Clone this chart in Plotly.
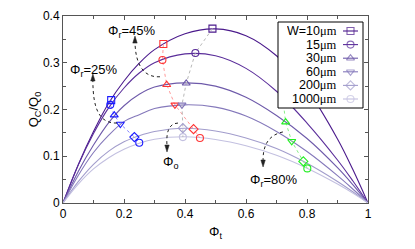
import plotly.graph_objects as go

# ---- data ----
phi_t = [0, 0.05, 0.1, 0.15, 0.2, 0.25, 0.3, 0.4, 0.5, 0.6, 0.7, 0.8, 0.9, 0.95, 1.0]
q_w10 = [0, 0.082, 0.153, 0.214, 0.261, 0.299, 0.328, 0.362, 0.3725, 0.358, 0.315, 0.243, 0.137, 0.072, 0]
q_w15 = [0, 0.081, 0.1485, 0.204, 0.246, 0.278, 0.300, 0.319, 0.315, 0.288, 0.239, 0.171, 0.092, 0.0475, 0]
q_w30 = [0, 0.0675, 0.124, 0.172, 0.208, 0.2325, 0.248, 0.257, 0.25, 0.226, 0.187, 0.138, 0.0756, 0.0394, 0]
q_w60 = [0, 0.059, 0.108, 0.145, 0.174, 0.189, 0.202, 0.21, 0.205, 0.186, 0.153, 0.110, 0.0585, 0.030, 0]
q_w200 = [0, 0.0456, 0.0828, 0.111, 0.131, 0.144, 0.153, 0.160, 0.154, 0.139, 0.1166, 0.085, 0.046, 0.024, 0]
q_w1000 = [0, 0.0404, 0.0729, 0.0969, 0.115, 0.128, 0.1365, 0.1416, 0.136, 0.1224, 0.102, 0.0744, 0.0405, 0.0211, 0]

width_labels = ["W=10", "15", "30", "60", "200", "1000"]
curves = [q_w10, q_w15, q_w30, q_w60, q_w200, q_w1000]

phi25_x = [0.158, 0.155, 0.168, 0.188, 0.234, 0.25]
phi25_y = [0.22, 0.21, 0.188, 0.169, 0.141, 0.129]
phi45_x = [0.329, 0.326, 0.340, 0.367, 0.428, 0.449]
phi45_y = [0.34, 0.306, 0.253, 0.21, 0.158, 0.139]
phio_x = [0.49, 0.434, 0.404, 0.39, 0.393, 0.393]
phio_y = [0.373, 0.321, 0.256, 0.21, 0.16, 0.141]
phi80_x = [0.724, 0.72, 0.73, 0.75, 0.788, 0.801]
phi80_y = [0.30, 0.227, 0.173, 0.132, 0.089, 0.074]

# ---- styles ----
curve_colors = ['#4b1a8c', '#5a2d9a', '#6e5aaa', '#8579bb', '#a29dcc', '#c3c0e0']
symbols = ['square-open', 'circle-open', 'triangle-up-open', 'triangle-down-open', 'diamond-open', 'circle-open']

# page body has an 8px margin: size the figure so the plot lands where the reference has it
OFF = 8
WIN_W, WIN_H = 415, 249
PX0, PX1, PY0, PY1 = 63, 368, 16, 203          # plot area in window pixels
W, H = WIN_W - OFF, WIN_H - OFF
ML, MT = PX0 - OFF, PY0 - OFF
MR, MB = W - (PX1 - OFF), H - (PY1 - OFF)
PW, PH = PX1 - PX0, PY1 - PY0
XR, YR = 1.0, 0.4

fig = go.Figure()

for q, c in zip(curves, curve_colors):
    fig.add_trace(go.Scatter(x=phi_t, y=q, mode='lines',
                             line=dict(color=c, width=1.1, shape='spline', smoothing=1.0),
                             showlegend=False, hoverinfo='skip'))

def connector(xs, ys, mcolors, lcolor):
    fig.add_trace(go.Scatter(x=xs, y=ys, mode='lines', line=dict(color=lcolor, width=1, dash='dot'),
                             showlegend=False, hoverinfo='skip'))
    for xv, yv, mc, s in zip(xs, ys, mcolors, symbols):
        fig.add_trace(go.Scatter(x=[xv], y=[yv], mode='markers',
                                 marker=dict(symbol=s, size=7, color=mc, line=dict(width=1.1, color=mc)),
                                 showlegend=False, hoverinfo='skip'))

connector(phi25_x, phi25_y, ['#1a1aff'] * 6, '#7f7fff')
connector(phi45_x, phi45_y, ['#ff3333'] * 6, '#ff9a9a')
connector(phio_x, phio_y, curve_colors, '#b8b8b8')
connector(phi80_x, phi80_y, ['#22ee22'] * 6, '#88f088')

# curved dotted arrows (data coords) and filled arrowheads
paths = [
    "M 0.177,0.171 C 0.12,0.170 0.098,0.20 0.098,0.262",
    "M 0.318,0.270 C 0.26,0.268 0.238,0.30 0.236,0.343",
    "M 0.377,0.171 C 0.345,0.170 0.338,0.15 0.341,0.122",
    "M 0.721,0.152 C 0.67,0.145 0.655,0.12 0.656,0.090",
]
for p in paths:
    fig.add_shape(type='path', path=p, xref='x', yref='y', line=dict(color='#222', width=1, dash='dot'))

heads = [(0.098, 0.276, 1), (0.236, 0.357, 1), (0.341, 0.109, -1), (0.656, 0.077, -1)]
px_x = XR / PW
px_y = YR / PH
for hx, hy, d in heads:
    bx1, bx2 = hx - 2.2 * px_x, hx + 2.2 * px_x
    by = hy - d * 7 * px_y
    fig.add_shape(type='path', path=f"M {hx},{hy} L {bx1},{by} L {bx2},{by} Z",
                  xref='x', yref='y', line=dict(color='#222', width=0.5), fillcolor='#222')

labels = [(0.100, 0.284, "Φ<sub>r</sub>=25%"), (0.226, 0.366, "Φ<sub>r</sub>=45%"),
          (0.352, 0.086, "Φ<sub>o</sub>"), (0.689, 0.049, "Φ<sub>r</sub>=80%")]
for lx, ly, t in labels:
    fig.add_annotation(x=lx, y=ly, text=t, showarrow=False, xref='x', yref='y',
                       font=dict(size=13, color='black'))

# ---- custom legend (gnuplot style: text right-aligned, sample on the right) ----
def fx(px):
    return (px - PX0) / PW

def fy(py):
    return (PY1 - py) / PH

box_x0, box_x1 = fx(278), fx(363)
box_y0, box_y1 = fy(108), fy(22)
fig.add_trace(go.Scatter(x=[box_x0, box_x1, box_x1, box_x0, box_x0],
                         y=[box_y0, box_y0, box_y1, box_y1, box_y0],
                         mode='lines', fill='toself', fillcolor='white',
                         line=dict(color='black', width=1), xaxis='x2', yaxis='y2',
                         showlegend=False, hoverinfo='skip'))
row0 = fy(31)
row_step = 13.6 / PH
sx0, sx1 = fx(343), fx(358)
text_x = fx(338)
for i, (lab, c, s) in enumerate(zip(width_labels, curve_colors, symbols)):
    ry = row0 - i * row_step
    fig.add_trace(go.Scatter(x=[sx0, (sx0 + sx1) / 2, sx1], y=[ry, ry, ry], mode='lines+markers',
                             line=dict(color=c, width=1.1),
                             marker=dict(symbol=s, size=[0, 7, 0], color=c, line=dict(width=1.1, color=c)),
                             xaxis='x2', yaxis='y2', showlegend=False, hoverinfo='skip'))
    fig.add_annotation(x=text_x, y=ry, xref='x2', yref='y2', xanchor='right', yanchor='middle',
                       text=lab + "<span style='font-family:Liberation Serif'>μm</span>",
                       showarrow=False, font=dict(size=12.5, color='black'), height=12, borderpad=0)

axis_common = dict(showline=True, linecolor='#555', linewidth=1, mirror='allticks', ticks='inside',
                   ticklen=4, tickcolor='#555', showgrid=False, zeroline=False, automargin=False,
                   tickfont=dict(size=12, color='black'))
fig.update_layout(
    xaxis=dict(range=[0, XR], dtick=0.2, tick0=0,
               minor=dict(dtick=0.1, ticks='inside', ticklen=3, tickcolor='#555'),
               title=dict(text="Φ<sub>t</sub>", font=dict(size=13), standoff=6), **axis_common),
    yaxis=dict(range=[0, YR], dtick=0.1, tick0=0,
               minor=dict(dtick=0.05, ticks='inside', ticklen=3, tickcolor='#555'),
               title=dict(text="Q<sub>C</sub>/Q<sub>0</sub>", font=dict(size=13), standoff=1), **axis_common),
    xaxis2=dict(range=[0, 1], overlaying='x', visible=False, fixedrange=True),
    yaxis2=dict(range=[0, 1], overlaying='y', visible=False, fixedrange=True),
    width=W, height=H,
    margin=dict(l=ML, r=MR, t=MT, b=MB),
    plot_bgcolor='white', paper_bgcolor='white',
    font=dict(family='Liberation Sans, Arial, sans-serif', size=12, color='black'),
    showlegend=False,
)

fig.write_html("out.html")
